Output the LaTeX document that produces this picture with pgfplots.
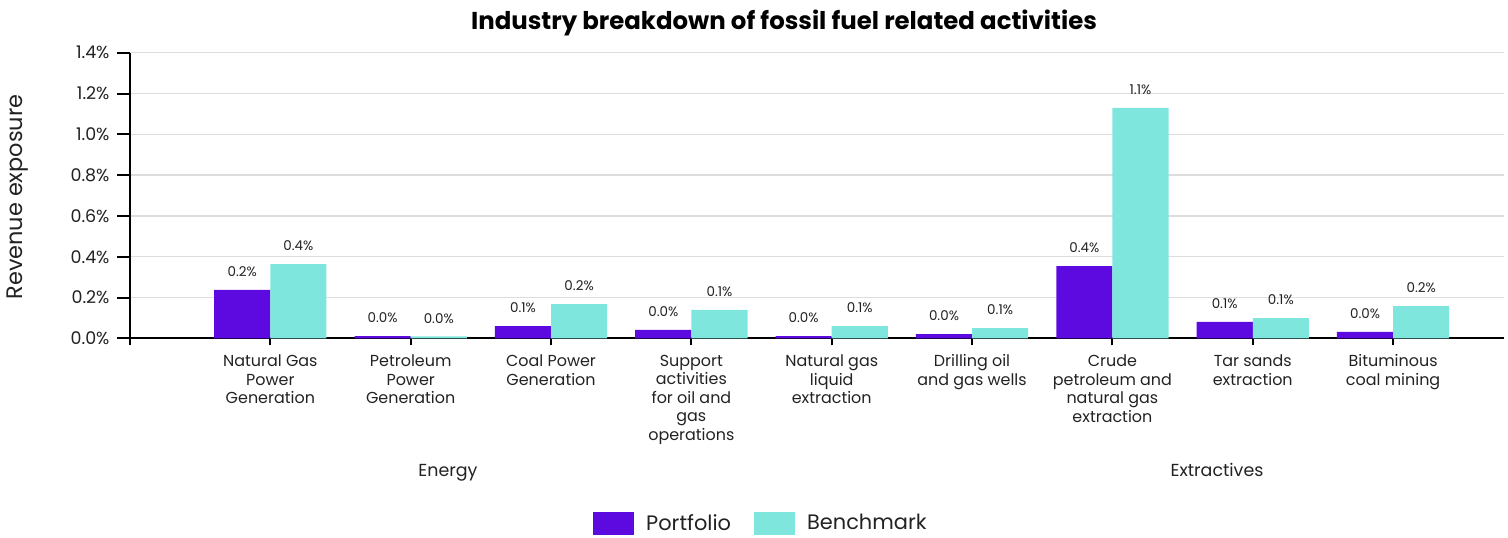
\documentclass[border=0pt]{standalone}
\usepackage{pgfplots}
\pgfplotsset{compat=1.18}
\usepackage{fontspec}
\setmainfont{Poppins}
\definecolor{port}{HTML}{5C0ADF}
\definecolor{bench}{HTML}{7FE6DE}
\definecolor{gridc}{HTML}{DDDDDD}
\definecolor{txt}{HTML}{222222}
\begin{document}
\begin{tikzpicture}
\useasboundingbox (0bp,0bp) rectangle (1508bp,-538bp);
\begin{axis}[
  at={(130bp,-338.3bp)}, anchor=south west,
  scale only axis, width=1374bp, height=285.6bp,
  xmin=0, xmax=9.79, ymin=0, ymax=1.4,
  axis x line*=bottom, axis y line*=left,
  axis line style={-, line width=2bp, black},
  ytick={0,0.2,0.4,0.6,0.8,1.0,1.2,1.4},
  yticklabel={\pgfmathprintnumber[fixed,fixed zerofill,precision=1]{\tick}\%},
  /pgf/number format/assume math mode=true,
  ymajorgrids, grid style={gridc, line width=1.5bp},
  tick align=outside,
  major tick length=13bp,
  tick style={line width=2bp, black},
  xtick={0,1,2,3,4,5,6,7,8,9},
  xticklabels={,{Natural Gas\\Power\\Generation},{Petroleum\\Power\\Generation},{Coal Power\\Generation},{Support\\activities\\for oil and\\gas\\operations},{Natural gas\\liquid\\extraction},{Drilling oil\\and gas wells},{Crude\\petroleum and\\natural gas\\extraction},{Tar sands\\extraction},{Bituminous\\coal mining}},
  xtick style={/pgfplots/major tick length=7bp},
  xticklabel style={font=\fontsize{16}{18.7}\selectfont, align=center, text=txt, anchor=north, yshift=0bp},
  yticklabel style={font=\fontsize{17.5}{20}\selectfont, text=txt, xshift=-4bp},
  ybar, bar width=0.4,
  nodes near coords={\pgfmathprintnumber[fixed,fixed zerofill,precision=1]{\pgfplotspointmeta}\%},
  every node near coord/.append style={font=\fontsize{13.5}{15}\selectfont, text=txt, anchor=center, yshift=18bp},
  clip=false,
  legend columns=2,
  legend style={draw=none, fill=none, inner sep=0pt, at={(rel axis cs:0.337,-0.648)}, anchor=west,
    font=\fontsize{21}{24}\selectfont, text=txt,
    /tikz/every odd column/.append style={column sep=10bp},
    /tikz/every even column/.append style={column sep=21bp}},
  legend image code/.code={\fill[#1] (0bp,-12bp) rectangle (41bp,11bp);},
]
\addplot[fill=port, draw=none, bar shift=-0.2] coordinates {
 (1,0.237) (2,0.011) (3,0.060) (4,0.041) (5,0.011) (6,0.021) (7,0.354) (8,0.080) (9,0.031)};
\addplot[fill=bench, draw=none, bar shift=0.2] coordinates {
 (1,0.364) (2,0.010) (3,0.168) (4,0.139) (5,0.060) (6,0.050) (7,1.129) (8,0.099) (9,0.158)};
\legend{Portfolio,Benchmark}
\end{axis}
\node[font=\bfseries\fontsize{24.5}{27}\selectfont, text=black] at (784bp,-23bp) {Industry breakdown of fossil fuel related activities};
\node[font=\fontsize{22.5}{25}\selectfont, text=txt, rotate=90] at (18bp,-197bp) {Revenue exposure};
\node[font=\fontsize{17.5}{20}\selectfont, text=txt, anchor=base] at (448bp,-476bp) {Energy};
\node[font=\fontsize{17.5}{20}\selectfont, text=txt, anchor=base] at (1217bp,-476bp) {Extractives};
\end{tikzpicture}
\end{document}
